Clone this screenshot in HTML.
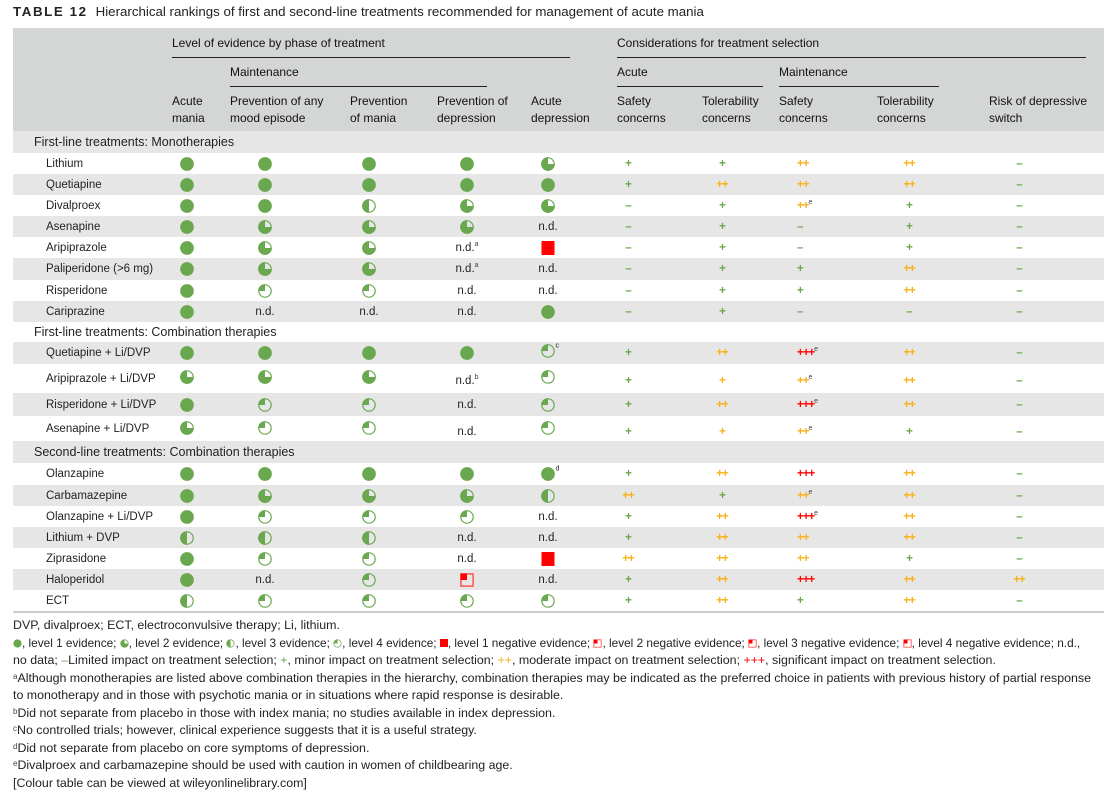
<!DOCTYPE html>
<html><head><meta charset="utf-8">
<style>
*{margin:0;padding:0;box-sizing:border-box}
body{width:1120px;height:797px;background:#fff;font-family:"Liberation Sans",sans-serif;color:#222;position:relative;overflow:hidden}
.abs{position:absolute}
.title{left:13px;top:4px;font-size:13.3px;white-space:nowrap}
.title b{letter-spacing:1.6px;margin-right:8px;font-weight:bold}
.hdr{left:13px;top:28px;width:1091px;height:103px;background:#d4d5d5}
.hl{position:absolute;height:1px;background:#222}
.ht{position:absolute;font-size:12px;line-height:17px;white-space:nowrap;color:#111}
.row{position:absolute;left:13px;width:1091px}
.g{background:#e6e6e6}
.row>div{position:absolute;top:50%;transform:translate(-50%,-50%);white-space:nowrap;font-size:11.5px;line-height:14px}
.row>div.nm{transform:translate(0,-50%);left:33px}
.row>div.sec{transform:translate(0,-50%);left:21px;font-size:12.5px}
.row>div.ls{transform:translate(0,-50%)}
.c1{left:174px}.c2{left:252px}.c3{left:356px}.c4{left:454px}.c5{left:535px}
.c6{left:615px}.c7{left:709px}.c8{left:784px}.c9{left:896px}.c10{left:1006px}
svg.i{width:15px;height:15px;display:block}
.rs{display:block;width:13px;height:14px;background:#f00}
.p{font-weight:bold;font-size:12.5px;letter-spacing:-1px}
.pg{color:#6aa84f}.po{color:#f9b11a}.pr{color:#f00}
sup{font-size:7px;vertical-align:top;position:relative;top:-3px;letter-spacing:0;font-weight:normal;color:#444}
.sup2{position:absolute;left:15px;top:-4px;font-size:7px}
.notes{left:13px;top:617px;font-size:12.4px;line-height:17.5px;width:1105px;color:#222;white-space:nowrap}
.notes sup{font-size:8px;top:-2px}
.notes svg{width:9px;height:9px;display:inline-block;vertical-align:-1px}
.sq{display:inline-block;width:8px;height:8px;background:#f00;vertical-align:0}
.leg{font-size:11.8px}
</style></head><body>
<div class="abs title"><b>TABLE 12</b>Hierarchical rankings of first and second-line treatments recommended for management of acute mania</div>
<div class="abs hdr"></div>
<div class="ht" style="left:172px;top:35px">Level of evidence by phase of treatment</div>
<div class="hl" style="left:172px;top:57px;width:398px"></div>
<div class="ht" style="left:617px;top:35px">Considerations for treatment selection</div>
<div class="hl" style="left:617px;top:57px;width:469px"></div>
<div class="ht" style="left:230px;top:64px">Maintenance</div>
<div class="hl" style="left:230px;top:86px;width:257px"></div>
<div class="ht" style="left:617px;top:64px">Acute</div>
<div class="hl" style="left:617px;top:86px;width:146px"></div>
<div class="ht" style="left:779px;top:64px">Maintenance</div>
<div class="hl" style="left:779px;top:86px;width:160px"></div>
<div class="ht" style="left:172px;top:93px">Acute<br>mania</div>
<div class="ht" style="left:230px;top:93px">Prevention of any<br>mood episode</div>
<div class="ht" style="left:350px;top:93px">Prevention<br>of mania</div>
<div class="ht" style="left:437px;top:93px">Prevention of<br>depression</div>
<div class="ht" style="left:531px;top:93px">Acute<br>depression</div>
<div class="ht" style="left:617px;top:93px">Safety<br>concerns</div>
<div class="ht" style="left:702px;top:93px">Tolerability<br>concerns</div>
<div class="ht" style="left:779px;top:93px">Safety<br>concerns</div>
<div class="ht" style="left:877px;top:93px">Tolerability<br>concerns</div>
<div class="ht" style="left:989px;top:93px">Risk of depressive<br>switch</div>

<svg width="0" height="0" style="position:absolute">
<defs>
<symbol id="L1" viewBox="0 0 16 16"><circle cx="8" cy="8" r="7.3" fill="#6aa84f"/></symbol>
<symbol id="L2" viewBox="0 0 16 16"><circle cx="8" cy="8" r="6.6" fill="none" stroke="#6aa84f" stroke-width="1.3"/><path d="M8 8V0.7A7.3 7.3 0 1 0 15.3 8Z" fill="#6aa84f"/></symbol>
<symbol id="L3" viewBox="0 0 16 16"><circle cx="8" cy="8" r="6.6" fill="none" stroke="#6aa84f" stroke-width="1.3"/><path d="M8 0.7A7.3 7.3 0 0 0 8 15.3Z" fill="#6aa84f"/></symbol>
<symbol id="L4" viewBox="0 0 16 16"><circle cx="8" cy="8" r="6.6" fill="none" stroke="#6aa84f" stroke-width="1.3"/><path d="M8 8V0.7A7.3 7.3 0 0 0 0.7 8Z" fill="#6aa84f"/></symbol>
<symbol id="R4" viewBox="0 0 16 16"><rect x="1.5" y="1.5" width="13" height="13" fill="none" stroke="#f33" stroke-width="1.3"/><rect x="1" y="1" width="7" height="7" fill="#f00"/></symbol>
</defs></svg>

<!-- Section 1 -->
<div class="row g" style="top:131px;height:22px"><div class="sec">First-line treatments: Monotherapies</div></div>
<div class="row" style="top:153px;height:21px"><div class="nm">Lithium</div>
<div class="c1"><svg class="i"><use href="#L1"/></svg></div><div class="c2"><svg class="i"><use href="#L1"/></svg></div><div class="c3"><svg class="i"><use href="#L1"/></svg></div><div class="c4"><svg class="i"><use href="#L1"/></svg></div><div class="c5"><svg class="i"><use href="#L2"/></svg></div>
<div class="c6 p pg">+</div><div class="c7 p pg">+</div><div class="c8 p po ls">++</div><div class="c9 p po">++</div><div class="c10 p pg">–</div></div>
<div class="row g" style="top:174px;height:21px"><div class="nm">Quetiapine</div>
<div class="c1"><svg class="i"><use href="#L1"/></svg></div><div class="c2"><svg class="i"><use href="#L1"/></svg></div><div class="c3"><svg class="i"><use href="#L1"/></svg></div><div class="c4"><svg class="i"><use href="#L1"/></svg></div><div class="c5"><svg class="i"><use href="#L1"/></svg></div>
<div class="c6 p pg">+</div><div class="c7 p po">++</div><div class="c8 p po ls">++</div><div class="c9 p po">++</div><div class="c10 p pg">–</div></div>
<div class="row" style="top:195px;height:21px"><div class="nm">Divalproex</div>
<div class="c1"><svg class="i"><use href="#L1"/></svg></div><div class="c2"><svg class="i"><use href="#L1"/></svg></div><div class="c3"><svg class="i"><use href="#L3"/></svg></div><div class="c4"><svg class="i"><use href="#L2"/></svg></div><div class="c5"><svg class="i"><use href="#L2"/></svg></div>
<div class="c6 p pg">–</div><div class="c7 p pg">+</div><div class="c8 p po ls">++<sup>e</sup></div><div class="c9 p pg">+</div><div class="c10 p pg">–</div></div>
<div class="row g" style="top:216px;height:21px"><div class="nm">Asenapine</div>
<div class="c1"><svg class="i"><use href="#L1"/></svg></div><div class="c2"><svg class="i"><use href="#L2"/></svg></div><div class="c3"><svg class="i"><use href="#L2"/></svg></div><div class="c4"><svg class="i"><use href="#L2"/></svg></div><div class="c5">n.d.</div>
<div class="c6 p pg">–</div><div class="c7 p pg">+</div><div class="c8 p pg ls">–</div><div class="c9 p pg">+</div><div class="c10 p pg">–</div></div>
<div class="row" style="top:237px;height:21px"><div class="nm">Aripiprazole</div>
<div class="c1"><svg class="i"><use href="#L1"/></svg></div><div class="c2"><svg class="i"><use href="#L2"/></svg></div><div class="c3"><svg class="i"><use href="#L2"/></svg></div><div class="c4">n.d.<sup>a</sup></div><div class="c5"><span class="rs"></span></div>
<div class="c6 p pg">–</div><div class="c7 p pg">+</div><div class="c8 p pg ls">–</div><div class="c9 p pg">+</div><div class="c10 p pg">–</div></div>
<div class="row g" style="top:258px;height:22px"><div class="nm">Paliperidone (&gt;6 mg)</div>
<div class="c1"><svg class="i"><use href="#L1"/></svg></div><div class="c2"><svg class="i"><use href="#L2"/></svg></div><div class="c3"><svg class="i"><use href="#L2"/></svg></div><div class="c4">n.d.<sup>a</sup></div><div class="c5">n.d.</div>
<div class="c6 p pg">–</div><div class="c7 p pg">+</div><div class="c8 p pg ls">+</div><div class="c9 p po">++</div><div class="c10 p pg">–</div></div>
<div class="row" style="top:280px;height:21px"><div class="nm">Risperidone</div>
<div class="c1"><svg class="i"><use href="#L1"/></svg></div><div class="c2"><svg class="i"><use href="#L4"/></svg></div><div class="c3"><svg class="i"><use href="#L4"/></svg></div><div class="c4">n.d.</div><div class="c5">n.d.</div>
<div class="c6 p pg">–</div><div class="c7 p pg">+</div><div class="c8 p pg ls">+</div><div class="c9 p po">++</div><div class="c10 p pg">–</div></div>
<div class="row g" style="top:301px;height:21px"><div class="nm">Cariprazine</div>
<div class="c1"><svg class="i"><use href="#L1"/></svg></div><div class="c2">n.d.</div><div class="c3">n.d.</div><div class="c4">n.d.</div><div class="c5"><svg class="i"><use href="#L1"/></svg></div>
<div class="c6 p pg">–</div><div class="c7 p pg">+</div><div class="c8 p pg ls">–</div><div class="c9 p pg">–</div><div class="c10 p pg">–</div></div>

<!-- Section 2 -->
<div class="row" style="top:322px;height:20px"><div class="sec">First-line treatments: Combination therapies</div></div>
<div class="row g" style="top:342px;height:22px"><div class="nm">Quetiapine + Li/DVP</div>
<div class="c1"><svg class="i"><use href="#L1"/></svg></div><div class="c2"><svg class="i"><use href="#L1"/></svg></div><div class="c3"><svg class="i"><use href="#L1"/></svg></div><div class="c4"><svg class="i"><use href="#L1"/></svg></div><div class="c5" style="margin-top:-2px"><svg class="i"><use href="#L4"/></svg><span class="sup2">c</span></div>
<div class="c6 p pg">+</div><div class="c7 p po">++</div><div class="c8 p pr ls">+++<sup>e</sup></div><div class="c9 p po">++</div><div class="c10 p pg">–</div></div>
<div class="row" style="top:364px;height:29px"><div class="nm">Aripiprazole + Li/DVP</div>
<div class="c1" style="margin-top:-2px"><svg class="i"><use href="#L2"/></svg></div><div class="c2" style="margin-top:-2px"><svg class="i"><use href="#L2"/></svg></div><div class="c3" style="margin-top:-2px"><svg class="i"><use href="#L2"/></svg></div><div class="c4" style="margin-top:2px">n.d.<sup>b</sup></div><div class="c5" style="margin-top:-2px"><svg class="i"><use href="#L4"/></svg></div>
<div class="c6 p pg" style="margin-top:2px">+</div><div class="c7 p po" style="margin-top:2px">+</div><div class="c8 p po ls" style="margin-top:2px">++<sup>e</sup></div><div class="c9 p po" style="margin-top:2px">++</div><div class="c10 p pg" style="margin-top:2px">–</div></div>
<div class="row g" style="top:393px;height:23px"><div class="nm">Risperidone + Li/DVP</div>
<div class="c1"><svg class="i"><use href="#L1"/></svg></div><div class="c2"><svg class="i"><use href="#L4"/></svg></div><div class="c3"><svg class="i"><use href="#L4"/></svg></div><div class="c4">n.d.</div><div class="c5"><svg class="i"><use href="#L4"/></svg></div>
<div class="c6 p pg">+</div><div class="c7 p po">++</div><div class="c8 p pr ls">+++<sup>e</sup></div><div class="c9 p po">++</div><div class="c10 p pg">–</div></div>
<div class="row" style="top:416px;height:25px"><div class="nm">Asenapine + Li/DVP</div>
<div class="c1" style="margin-top:-1px"><svg class="i"><use href="#L2"/></svg></div><div class="c2" style="margin-top:-1px"><svg class="i"><use href="#L4"/></svg></div><div class="c3" style="margin-top:-1px"><svg class="i"><use href="#L4"/></svg></div><div class="c4" style="margin-top:3px">n.d.</div><div class="c5" style="margin-top:-1px"><svg class="i"><use href="#L4"/></svg></div>
<div class="c6 p pg" style="margin-top:3px">+</div><div class="c7 p po" style="margin-top:3px">+</div><div class="c8 p po ls" style="margin-top:3px">++<sup>e</sup></div><div class="c9 p pg" style="margin-top:3px">+</div><div class="c10 p pg" style="margin-top:3px">–</div></div>

<!-- Section 3 -->
<div class="row g" style="top:441px;height:22px"><div class="sec">Second-line treatments: Combination therapies</div></div>
<div class="row" style="top:463px;height:22px"><div class="nm">Olanzapine</div>
<div class="c1"><svg class="i"><use href="#L1"/></svg></div><div class="c2"><svg class="i"><use href="#L1"/></svg></div><div class="c3"><svg class="i"><use href="#L1"/></svg></div><div class="c4"><svg class="i"><use href="#L1"/></svg></div><div class="c5"><svg class="i"><use href="#L1"/></svg><span class="sup2">d</span></div>
<div class="c6 p pg">+</div><div class="c7 p po">++</div><div class="c8 p pr ls">+++</div><div class="c9 p po">++</div><div class="c10 p pg">–</div></div>
<div class="row g" style="top:485px;height:21px"><div class="nm">Carbamazepine</div>
<div class="c1"><svg class="i"><use href="#L1"/></svg></div><div class="c2"><svg class="i"><use href="#L2"/></svg></div><div class="c3"><svg class="i"><use href="#L2"/></svg></div><div class="c4"><svg class="i"><use href="#L2"/></svg></div><div class="c5"><svg class="i"><use href="#L3"/></svg></div>
<div class="c6 p po">++</div><div class="c7 p pg">+</div><div class="c8 p po ls">++<sup>e</sup></div><div class="c9 p po">++</div><div class="c10 p pg">–</div></div>
<div class="row" style="top:506px;height:21px"><div class="nm">Olanzapine + Li/DVP</div>
<div class="c1"><svg class="i"><use href="#L1"/></svg></div><div class="c2"><svg class="i"><use href="#L4"/></svg></div><div class="c3"><svg class="i"><use href="#L4"/></svg></div><div class="c4"><svg class="i"><use href="#L4"/></svg></div><div class="c5">n.d.</div>
<div class="c6 p pg">+</div><div class="c7 p po">++</div><div class="c8 p pr ls">+++<sup>e</sup></div><div class="c9 p po">++</div><div class="c10 p pg">–</div></div>
<div class="row g" style="top:527px;height:21px"><div class="nm">Lithium + DVP</div>
<div class="c1"><svg class="i"><use href="#L3"/></svg></div><div class="c2"><svg class="i"><use href="#L3"/></svg></div><div class="c3"><svg class="i"><use href="#L3"/></svg></div><div class="c4">n.d.</div><div class="c5">n.d.</div>
<div class="c6 p pg">+</div><div class="c7 p po">++</div><div class="c8 p po ls">++</div><div class="c9 p po">++</div><div class="c10 p pg">–</div></div>
<div class="row" style="top:548px;height:21px"><div class="nm">Ziprasidone</div>
<div class="c1"><svg class="i"><use href="#L1"/></svg></div><div class="c2"><svg class="i"><use href="#L4"/></svg></div><div class="c3"><svg class="i"><use href="#L4"/></svg></div><div class="c4">n.d.</div><div class="c5"><span class="rs"></span></div>
<div class="c6 p po">++</div><div class="c7 p po">++</div><div class="c8 p po ls">++</div><div class="c9 p pg">+</div><div class="c10 p pg">–</div></div>
<div class="row g" style="top:569px;height:21px"><div class="nm">Haloperidol</div>
<div class="c1"><svg class="i"><use href="#L1"/></svg></div><div class="c2">n.d.</div><div class="c3"><svg class="i"><use href="#L4"/></svg></div><div class="c4"><svg class="i"><use href="#R4"/></svg></div><div class="c5">n.d.</div>
<div class="c6 p pg">+</div><div class="c7 p po">++</div><div class="c8 p pr ls">+++</div><div class="c9 p po">++</div><div class="c10 p po">++</div></div>
<div class="row" style="top:590px;height:21px"><div class="nm">ECT</div>
<div class="c1"><svg class="i"><use href="#L3"/></svg></div><div class="c2"><svg class="i"><use href="#L4"/></svg></div><div class="c3"><svg class="i"><use href="#L4"/></svg></div><div class="c4"><svg class="i"><use href="#L4"/></svg></div><div class="c5"><svg class="i"><use href="#L4"/></svg></div>
<div class="c6 p pg">+</div><div class="c7 p po">++</div><div class="c8 p pg ls">+</div><div class="c9 p po">++</div><div class="c10 p pg">–</div></div>
<div class="abs" style="left:13px;top:611px;width:1091px;height:2px;background:#ccc"></div>

<div class="abs notes">
DVP, divalproex; ECT, electroconvulsive therapy; Li, lithium.<br>
<span class="leg"><svg><use href="#L1"/></svg>, level 1 evidence; <svg><use href="#L2"/></svg>, level 2 evidence; <svg><use href="#L3"/></svg>, level 3 evidence; <svg><use href="#L4"/></svg>, level 4 evidence; <span class="sq"></span>, level 1 negative evidence; <svg><use href="#R4"/></svg>, level 2 negative evidence; <svg><use href="#R4"/></svg>, level 3 negative evidence; <svg><use href="#R4"/></svg>, level 4 negative evidence; n.d.,</span><br>
no data; <span style="color:#6aa84f">–</span>Limited impact on treatment selection; <span style="color:#6aa84f">+</span>, minor impact on treatment selection; <span style="color:#f9b11a">++</span>, moderate impact on treatment selection; <span style="color:#f00">+++</span>, significant impact on treatment selection.<br>
<sup>a</sup>Although monotherapies are listed above combination therapies in the hierarchy, combination therapies may be indicated as the preferred choice in patients with previous history of partial response<br>
to monotherapy and in those with psychotic mania or in situations where rapid response is desirable.<br>
<sup>b</sup>Did not separate from placebo in those with index mania; no studies available in index depression.<br>
<sup>c</sup>No controlled trials; however, clinical experience suggests that it is a useful strategy.<br>
<sup>d</sup>Did not separate from placebo on core symptoms of depression.<br>
<sup>e</sup>Divalproex and carbamazepine should be used with caution in women of childbearing age.<br>
[Colour table can be viewed at wileyonlinelibrary.com]
</div>
</body></html>
